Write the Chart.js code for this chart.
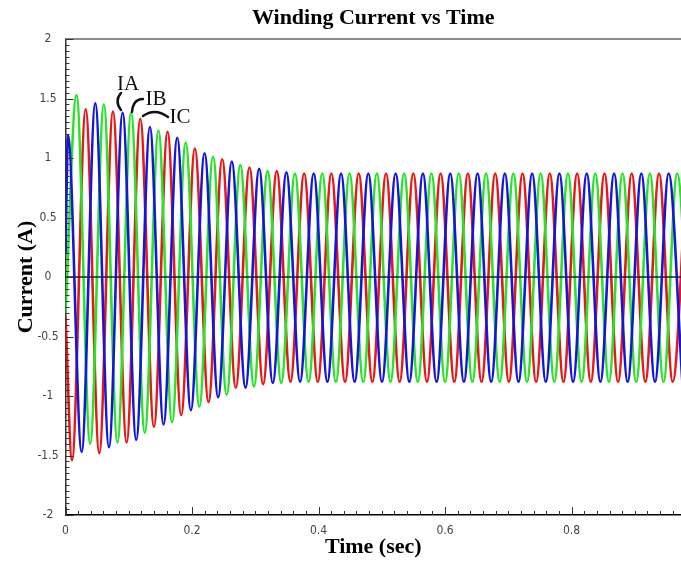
<!DOCTYPE html>
<html>
<head>
<meta charset="utf-8">
<title>Winding Current vs Time</title>
<script src="https://cdn.jsdelivr.net/npm/chart.js@4.4.1/dist/chart.umd.min.js"></script>
<style>
  html, body { margin: 0; padding: 0; background: #fff; }
</style>
</head>
<body>
<canvas id="myChart" width="681" height="562"></canvas>
<script>
// tick labels
const xTickLabels = [0, 0.2, 0.4, 0.6, 0.8];
const yTickLabels = [-2, -1.5, -1, -0.5, 0, 0.5, 1, 1.5, 2];

// IA (blue): times of each peak / trough (sec) and the current there (A)
const iaTime = [0, 0.0040, 0.0255, 0.0471, 0.0687, 0.0903, 0.1118, 0.1334, 0.1550, 0.1766,
  0.1982, 0.2198, 0.2413, 0.2629, 0.2845, 0.3061, 0.3277, 0.3492, 0.3708, 0.3924,
  0.4140, 0.4356, 0.4571, 0.4787, 0.5003, 0.5219, 0.5435, 0.5650, 0.5866, 0.6082,
  0.6298, 0.6514, 0.6729, 0.6945, 0.7161, 0.7377, 0.7593, 0.7808, 0.8024, 0.8240,
  0.8456, 0.8672, 0.8887, 0.9103, 0.9319, 0.9535, 0.9751];
const iaCurrent = [0.2, 1.19, -1.47, 1.46, -1.43, 1.38, -1.37, 1.26, -1.24, 1.17,
  -1.12, 1.04, -1.01, 0.97, -0.93, 0.91, -0.89, 0.88, -0.88, 0.87,
  -0.88, 0.87, -0.88, 0.87, -0.88, 0.87, -0.88, 0.87, -0.88, 0.87,
  -0.88, 0.87, -0.88, 0.87, -0.88, 0.87, -0.88, 0.87, -0.88, 0.87,
  -0.88, 0.87, -0.88, 0.87, -0.88, 0.87, -0.88];

// IB (green)
const ibTime = [0, 0.0174, 0.0390, 0.0606, 0.0821, 0.1037, 0.1253, 0.1469, 0.1685, 0.1900,
  0.2116, 0.2332, 0.2548, 0.2764, 0.2979, 0.3195, 0.3411, 0.3627, 0.3843, 0.4059,
  0.4274, 0.4490, 0.4706, 0.4922, 0.5138, 0.5353, 0.5569, 0.5785, 0.6001, 0.6217,
  0.6432, 0.6648, 0.6864, 0.7080, 0.7296, 0.7511, 0.7727, 0.7943, 0.8159, 0.8375,
  0.8590, 0.8806, 0.9022, 0.9238, 0.9454, 0.9669, 0.9885];
const ibCurrent = [-0.3, 1.53, -1.40, 1.45, -1.39, 1.38, -1.31, 1.23, -1.22, 1.13,
  -1.09, 1.01, -0.99, 0.94, -0.92, 0.89, -0.89, 0.87, -0.88, 0.87,
  -0.88, 0.87, -0.88, 0.87, -0.88, 0.87, -0.88, 0.87, -0.88, 0.87,
  -0.88, 0.87, -0.88, 0.87, -0.88, 0.87, -0.88, 0.87, -0.88, 0.87,
  -0.88, 0.87, -0.88, 0.87, -0.88, 0.87, -0.88];

// IC (red)
const icTime = [0, 0.0103, 0.0319, 0.0534, 0.0750, 0.0966, 0.1182, 0.1398, 0.1613, 0.1829,
  0.2045, 0.2261, 0.2477, 0.2692, 0.2908, 0.3124, 0.3340, 0.3556, 0.3772, 0.3988,
  0.4203, 0.4419, 0.4635, 0.4851, 0.5067, 0.5282, 0.5498, 0.5714, 0.5930, 0.6146,
  0.6361, 0.6577, 0.6793, 0.7009, 0.7225, 0.7440, 0.7656, 0.7872, 0.8088, 0.8304,
  0.8520, 0.8735, 0.8951, 0.9167, 0.9383, 0.9599, 0.9814];
const icCurrent = [-0.33, -1.54, 1.41, -1.48, 1.39, -1.39, 1.33, -1.26, 1.22, -1.16,
  1.08, -1.05, 0.99, -0.93, 0.92, -0.90, 0.89, -0.88, 0.87, -0.88,
  0.87, -0.88, 0.87, -0.88, 0.87, -0.88, 0.87, -0.88, 0.87, -0.88,
  0.87, -0.88, 0.87, -0.88, 0.87, -0.88, 0.87, -0.88, 0.87, -0.88,
  0.87, -0.88, 0.87, -0.88, 0.87, -0.88, 0.87];

const phaseNames = ["IA", "IB", "IC"];

const xMax = 0.973;
const xMinorStep = 0.02;
const yMinorStep = 0.05;

// where the IA / IB / IC labels sit (data units)
const labelAt = [
  { x: 0.0988, y: 1.626 },
  { x: 0.1431, y: 1.50 },
  { x: 0.1810, y: 1.349 },
];

const serif = '"Liberation Serif", "Times New Roman", Times, serif';
const narrow = '"Liberation Sans Narrow", "Arial Narrow", "DejaVu Sans Condensed", sans-serif';

function toPoints(ts, vs) {
  return ts.map((t, i) => ({ x: t, y: vs[i] }));
}

// zero line, top frame, inward ticks, phase labels
const decorations = {
  id: "decorations",
  afterDatasetsDraw(chart) {
    const { ctx, chartArea: a, scales: { x, y } } = chart;
    ctx.save();

    const y0 = y.getPixelForValue(0);
    ctx.strokeStyle = "#1d1d3c";
    ctx.lineWidth = 1.5;
    ctx.beginPath();
    ctx.moveTo(a.left, y0);
    ctx.lineTo(a.right, y0);
    ctx.stroke();

    ctx.strokeStyle = "#8c8c8c";
    ctx.lineWidth = 2;
    ctx.beginPath();
    ctx.moveTo(a.left, a.top);
    ctx.lineTo(a.right, a.top);
    ctx.stroke();

    ctx.strokeStyle = "#333";
    ctx.lineWidth = 1;
    for (let i = 0; i * xMinorStep <= xMax; i++) {
      const px = Math.round(x.getPixelForValue(i * xMinorStep)) + 0.5;
      const len = i % 10 === 0 ? 8 : 4;
      ctx.beginPath();
      ctx.moveTo(px, a.bottom);
      ctx.lineTo(px, a.bottom - len);
      ctx.stroke();
    }
    for (let i = 0; i <= 80; i++) {
      const py = Math.round(y.getPixelForValue(-2 + i * yMinorStep)) + 0.5;
      const len = i % 10 === 0 ? 8 : 4;
      ctx.beginPath();
      ctx.moveTo(a.left, py);
      ctx.lineTo(a.left + len, py);
      ctx.stroke();
    }

    // labels
    ctx.fillStyle = "#111";
    ctx.font = "21px " + serif;
    ctx.textAlign = "center";
    ctx.textBaseline = "middle";
    const c = labelAt.map((p) => ({ x: x.getPixelForValue(p.x), y: y.getPixelForValue(p.y) }));
    phaseNames.forEach((n, i) => ctx.fillText(n, c[i].x, c[i].y + 1));

    ctx.strokeStyle = "#111";
    ctx.lineWidth = 2.4;
    ctx.lineCap = "round";
    // IA "("
    ctx.beginPath();
    ctx.moveTo(c[0].x - 7, c[0].y + 9.5);
    ctx.quadraticCurveTo(c[0].x - 14, c[0].y + 17.5, c[0].x - 7, c[0].y + 26.5);
    ctx.stroke();
    // IB hook
    ctx.beginPath();
    ctx.moveTo(c[1].x - 24, c[1].y + 13.5);
    ctx.quadraticCurveTo(c[1].x - 23, c[1].y + 0.5, c[1].x - 13, c[1].y + 0.5);
    ctx.stroke();
    // IC arc
    ctx.beginPath();
    ctx.moveTo(c[2].x - 37, c[2].y - 0.5);
    ctx.quadraticCurveTo(c[2].x - 25, c[2].y - 9, c[2].x - 12, c[2].y + 0.5);
    ctx.stroke();

    ctx.restore();
  },
};

const ctx = document.getElementById("myChart");
new Chart(ctx, {
  type: "line",
  data: {
    datasets: [
      {
        label: phaseNames[0],
        data: toPoints(iaTime, iaCurrent),
        borderColor: "rgb(20, 22, 220)",
      },
      {
        label: phaseNames[1],
        data: toPoints(ibTime, ibCurrent),
        borderColor: "rgb(40, 228, 40)",
      },
      {
        label: phaseNames[2],
        data: toPoints(icTime, icCurrent),
        borderColor: "rgb(232, 24, 24)",
      },
    ],
  },
  options: {
    responsive: false,
    animation: false,
    events: [],
    layout: { padding: 0 },
    elements: {
      line: { borderWidth: 2.6, cubicInterpolationMode: "monotone", fill: false },
      point: { radius: 0 },
    },
    plugins: {
      legend: { display: false },
      tooltip: { enabled: false },
      title: {
        display: true,
        text: "Winding Current vs Time",
        color: "#000",
        fullSize: false,
        font: { family: serif, size: 22, weight: "bold" },
        padding: { top: 5, bottom: 7.6 },
      },
    },
    scales: {
      x: {
        type: "linear",
        min: 0,
        max: xMax,
        afterBuildTicks: (s) => {
          s.ticks = xTickLabels.map((v) => ({ value: v }));
        },
        afterFit: (s) => {
          s.height = 47;
        },
        grid: { display: true, drawOnChartArea: false, drawTicks: false, color: "rgba(0,0,0,0)" },
        border: { display: true, color: "#000", width: 1.5 },
        ticks: {
          padding: 9,
          color: "#444",
          autoSkip: false,
          maxRotation: 0,
          font: { family: narrow, size: 12 },
          callback: (v) => String(v),
        },
        title: {
          display: true,
          text: "Time (sec)",
          color: "#000",
          font: { family: serif, size: 22, weight: "bold" },
          padding: { top: 0, bottom: 1 },
        },
      },
      y: {
        type: "linear",
        min: -2,
        max: 2,
        afterBuildTicks: (s) => {
          s.ticks = yTickLabels.map((v) => ({ value: v }));
        },
        afterFit: (s) => {
          s.width = 65.5;
        },
        grid: { display: true, drawOnChartArea: false, drawTicks: false, color: "rgba(0,0,0,0)" },
        border: { display: true, color: "#333", width: 1.5 },
        ticks: {
          padding: 7,
          crossAlign: "center",
          color: "#444",
          font: { family: narrow, size: 12 },
          callback: (v) => String(v),
        },
        title: {
          display: true,
          text: "Current (A)",
          color: "#000",
          font: { family: serif, size: 22, weight: "bold" },
          padding: { top: 13, bottom: 0 },
        },
      },
    },
  },
  plugins: [decorations],
});
</script>
</body>
</html>
